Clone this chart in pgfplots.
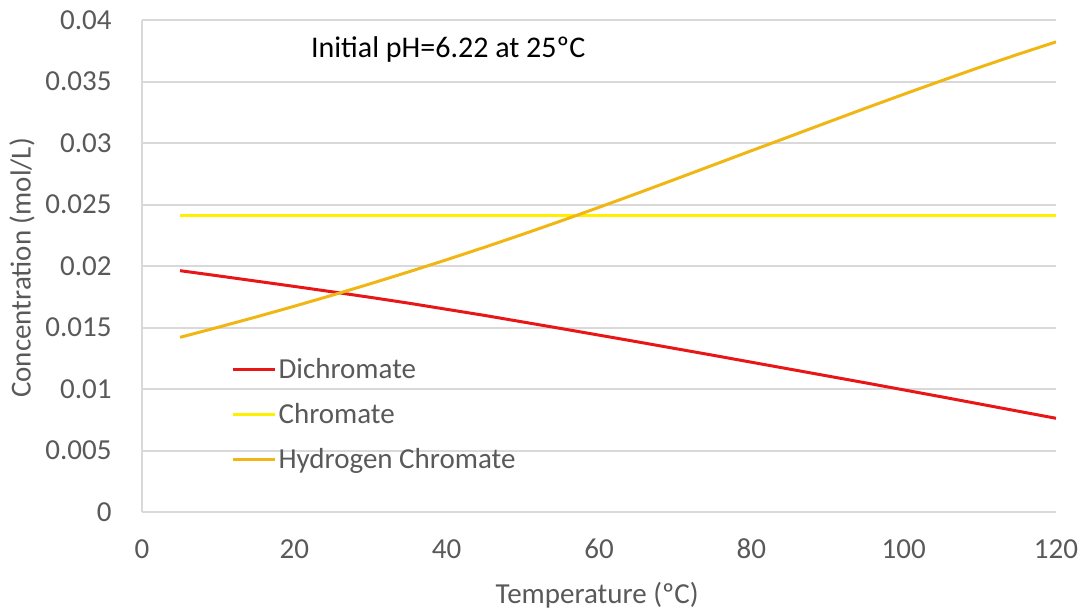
\documentclass[border=0pt]{standalone}
\usepackage{pgfplots}
\pgfplotsset{compat=1.18}
\usepackage{pgfplotstable}
\usepackage{fontspec}
\setmainfont{Carlito}

\definecolor{dichro}{RGB}{232,22,22}
\definecolor{chrom}{RGB}{255,240,0}
\definecolor{hchrom}{RGB}{240,183,20}
\definecolor{ticktxt}{RGB}{89,89,89}
\definecolor{gridc}{RGB}{217,217,217}

% temperature (C) vs concentration (mol/L)
\pgfplotstableread{
T     di       ch      hc
5     0.01962  0.0241  0.01420
10    0.01920  0.0241  0.01502
15    0.01877  0.0241  0.01586
20    0.01834  0.0241  0.01673
25    0.01790  0.0241  0.01763
30    0.01745  0.0241  0.01856
35    0.01698  0.0241  0.01952
40    0.01648  0.0241  0.02051
45    0.01598  0.0241  0.02153
50    0.01545  0.0241  0.02258
55    0.01492  0.0241  0.02366
60    0.01438  0.0241  0.02477
65    0.01384  0.0241  0.02590
70    0.01329  0.0241  0.02705
75    0.01274  0.0241  0.02821
80    0.01218  0.0241  0.02937
85    0.01162  0.0241  0.03052
90    0.01106  0.0241  0.03168
95    0.01050  0.0241  0.03283
100   0.00993  0.0241  0.03396
105   0.00936  0.0241  0.03507
110   0.00878  0.0241  0.03616
115   0.00820  0.0241  0.03721
120   0.00762  0.0241  0.03822
}\conc

\begin{document}
\begin{tikzpicture}
\useasboundingbox (-71pt,-50pt) rectangle (470.5pt,256pt);
\begin{axis}[
  scale only axis,
  width=457pt, height=246pt,
  xmin=0, xmax=120, ymin=0, ymax=0.04,
  xtick={0,20,40,60,80,100,120},
  ytick={0,0.005,0.01,0.015,0.02,0.025,0.03,0.035,0.04},
  yticklabels={0,0.005,0.01,0.015,0.02,0.025,0.03,0.035,0.04},
  scaled y ticks=false,
  /pgf/number format/assume math mode=true,
  ticklabel style={font=\fontsize{14.5}{17}\selectfont, text=ticktxt},
  xticklabel style={anchor=center, yshift=-18.5pt},
  yticklabel style={anchor=east, inner sep=0pt, xshift=-15pt},
  major tick length=0pt,
  axis x line*=bottom, axis y line*=left,
  axis line style={draw=gridc, line width=1pt, -},
  ymajorgrids, grid style={draw=gridc, line width=1pt},
  xlabel={Temperature (ºC)},
  ylabel={Concentration (mol/L)},
  every axis x label/.style={at={(axis description cs:0.498,-0.1687)}, anchor=center,
    font=\fontsize{14.5}{17}\selectfont, text=ticktxt},
  every axis y label/.style={at={(axis description cs:-0.1313,0.496)}, rotate=90, anchor=center,
    font=\fontsize{14.5}{17}\selectfont, text=ticktxt},
  legend style={at={(rel axis cs:0.091,0.326)}, anchor=north west, draw=none, fill=none,
    font=\fontsize{14.5}{17}\selectfont, text=ticktxt, row sep=9pt,
    nodes={inner sep=1pt}},
  legend cell align=left,
  legend image code/.code={\draw[#1] (0pt,0pt) -- (21pt,0pt);},
]
\addplot[dichro, line width=1.5pt] table[x=T, y=di] {\conc};
\addplot[chrom, line width=1.5pt] table[x=T, y=ch] {\conc};
\addplot[hchrom, line width=1.5pt] table[x=T, y=hc] {\conc};
\legend{Dichromate, Chromate, Hydrogen Chromate}
\node[font=\fontsize{15}{18}\selectfont, text=black, anchor=center] at (axis cs:40.2,0.0376) {Initial pH=6.22 at 25ºC};
\end{axis}
\end{tikzpicture}
\end{document}
